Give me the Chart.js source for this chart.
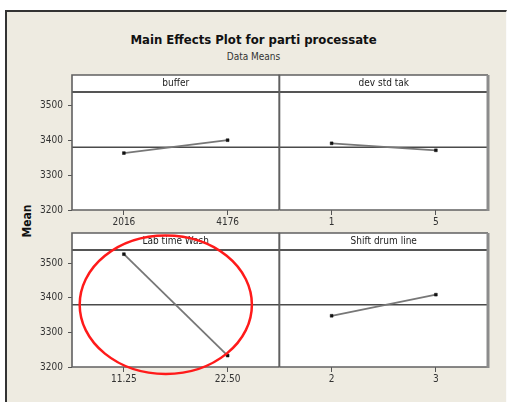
<!DOCTYPE html>
<html>
<head>
<meta charset="utf-8">
<script src="https://cdn.jsdelivr.net/npm/chart.js@4.4.1/dist/chart.umd.min.js"></script>
<style>
  html, body { margin: 0; padding: 0; background: #fff; width: 507px; height: 402px; overflow: hidden; }
  #frame { position: absolute; left: 5px; top: 10px; width: 499px; height: 392px; background: #eeebe1;
           border-left: 2px solid #333; border-top: 2px solid #333; border-right: 1px solid #fbfbfb; }
  canvas { position: absolute; }
  .t { position: absolute; left: 0; width: 507px; text-align: center; color: #111;
       font-family: "DejaVu Sans Condensed", "DejaVu Sans", sans-serif; white-space: nowrap; }
  #ylab { position: absolute; left: 2px; top: 214px; width: 50px; height: 14px; line-height: 14px;
          text-align: center; font: bold 12px "DejaVu Sans Condensed", "DejaVu Sans", sans-serif;
          color: #111; transform: rotate(-90deg); }
</style>
</head>
<body>
<div id="frame"></div>
<div class="t" style="top:32px;font-size:13px;font-weight:bold;">Main Effects Plot for parti processate</div>
<div class="t" style="top:51px;font-size:10px;color:#333;">Data Means</div>
<div id="ylab">Mean</div>
<canvas id="p0" width="284" height="160" style="left:0px;top:72px"></canvas>
<canvas id="p1" width="219" height="160" style="left:275px;top:72px"></canvas>
<canvas id="p2" width="284" height="159" style="left:0px;top:230px"></canvas>
<canvas id="p3" width="219" height="159" style="left:275px;top:230px"></canvas>
<script>
// Factor names (panel headers)
const factorNames = ["buffer", "dev std tak", "Lab time Wash", "Shift drum line"];
// Factor levels
const bufferLevels = ["2016", "4176"];
const devLevels = ["1", "5"];
const washLevels = ["11.25", "22.50"];
const drumLevels = ["2", "3"];
// Mean response at each level
const bufferMeans = [3363, 3400];
const devMeans = [3391, 3371];
const washMeans = [3526, 3233];
const drumMeans = [3348, 3409];
// Overall mean and shared y axis
const grandMean = 3380;
const yMin = 3200;
const yMax = 3538;
const yTicks = [3200, 3300, 3400, 3500];

const FONT = '"DejaVu Sans Condensed", "DejaVu Sans", sans-serif';
const HEADER_H = 17;

// Panel frame, header strip and reference line
const panelPlugin = {
  id: 'panel',
  beforeDraw(chart, args, o) {
    const { ctx, chartArea: a } = chart;
    ctx.save();
    ctx.fillStyle = '#ffffff';
    ctx.fillRect(a.left, a.top - HEADER_H, a.right - a.left, a.bottom - a.top + HEADER_H);
    ctx.restore();
  },
  beforeDatasetsDraw(chart, args, o) {
    const { ctx, chartArea: a } = chart;
    const y = chart.scales.y.getPixelForValue(grandMean);
    ctx.save();
    // grand mean line
    ctx.strokeStyle = '#4a4a4a';
    ctx.lineWidth = 1.5;
    ctx.beginPath();
    ctx.moveTo(a.left, y);
    ctx.lineTo(a.right, y);
    ctx.stroke();
    // header separator
    ctx.strokeStyle = '#555';
    ctx.lineWidth = 2;
    ctx.beginPath();
    ctx.moveTo(a.left, a.top);
    ctx.lineTo(a.right, a.top);
    ctx.stroke();
    // frame
    ctx.strokeStyle = '#606060';
    ctx.lineWidth = 1.6;
    ctx.beginPath();
    ctx.moveTo(a.left, a.bottom);
    ctx.lineTo(a.left, a.top - HEADER_H);
    ctx.lineTo(a.right, a.top - HEADER_H);
    ctx.stroke();
    ctx.beginPath();
    ctx.moveTo(a.left, a.bottom);
    ctx.lineTo(a.right, a.bottom);
    ctx.stroke();
    if (o.outerRight) {
      ctx.strokeStyle = '#8c8c8c';
      ctx.lineWidth = 3;
      ctx.beginPath();
      ctx.moveTo(a.right, a.top - HEADER_H);
      ctx.lineTo(a.right, a.bottom + 1);
      ctx.stroke();
    } else {
      ctx.strokeStyle = '#555';
      ctx.lineWidth = 2;
      ctx.beginPath();
      ctx.moveTo(a.right, a.top - HEADER_H);
      ctx.lineTo(a.right, a.bottom);
      ctx.stroke();
    }
    // header text
    ctx.fillStyle = '#222';
    ctx.font = '10px ' + FONT;
    ctx.textAlign = 'center';
    ctx.textBaseline = 'middle';
    ctx.fillText(o.title, (a.left + a.right) / 2, a.top - HEADER_H / 2);
    ctx.restore();
  },
  afterDraw(chart, args, o) {
    if (!o.ring) return;
    // red ring marking this factor
    const { ctx } = chart;
    const xs = chart.scales.x, ys = chart.scales.y;
    const x0 = xs.getPixelForValue(0), x1 = xs.getPixelForValue(1);
    const cx = x0 + o.ring.cx * (x1 - x0);
    const rx = o.ring.rx * (x1 - x0);
    const cy = ys.getPixelForValue(o.ring.cy);
    const ry = Math.abs(ys.getPixelForValue(o.ring.cy + o.ring.ry) - cy);
    ctx.save();
    ctx.strokeStyle = '#ff1a1a';
    ctx.lineWidth = 2.5;
    ctx.beginPath();
    ctx.ellipse(cx, cy, rx, ry, 0, 0, Math.PI * 2);
    ctx.stroke();
    ctx.restore();
  }
};

function makePanel(id, title, levels, means, leftCol, ring) {
  return new Chart(document.getElementById(id), {
    type: 'line',
    data: {
      labels: levels,
      datasets: [{
        data: means,
        borderColor: '#777',
        borderWidth: 1.8,
        pointStyle: 'rect',
        pointRadius: 2,
        pointBackgroundColor: '#111',
        pointBorderColor: '#111',
        pointBorderWidth: 0.5,
        tension: 0,
        clip: false
      }]
    },
    options: {
      responsive: false,
      animation: false,
      devicePixelRatio: 1,
      layout: { padding: leftCol ? { top: 20, right: 0, left: 0, bottom: 0 }
                                 : { top: 20, right: 6, left: 0, bottom: 0 } },
      plugins: {
        legend: { display: false },
        tooltip: { enabled: false },
        panel: { title: title, outerRight: !leftCol, ring: ring }
      },
      scales: {
        x: {
          type: 'category',
          offset: true,
          grid: { display: true, drawOnChartArea: false, drawTicks: true, tickLength: 5, offset: false, color: '#555' },
          border: { display: false },
          ticks: { color: '#333', font: { family: FONT, size: 10 }, padding: 1, maxRotation: 0, autoSkip: false },
          afterFit(s) { s.height = 22; }
        },
        y: {
          display: leftCol,
          min: yMin,
          max: yMax,
          grid: { display: true, drawOnChartArea: false, drawTicks: true, tickLength: 4, color: '#555' },
          border: { display: false },
          ticks: { color: '#333', font: { family: FONT, size: 10 }, padding: 5,
                   callback: v => String(v) },
          afterBuildTicks(s) { s.ticks = yTicks.map(v => ({ value: v })); },
          afterFit(s) { s.width = leftCol ? 72 : 0; }
        }
      }
    },
    plugins: [panelPlugin]
  });
}

makePanel('p0', factorNames[0], bufferLevels, bufferMeans, true, null);
makePanel('p1', factorNames[1], devLevels, devMeans, false, null);
makePanel('p2', factorNames[2], washLevels, washMeans, true, { cx: 0.404, cy: 3380, rx: 0.83, ry: 200 });
makePanel('p3', factorNames[3], drumLevels, drumMeans, false, null);
</script>
</body>
</html>
